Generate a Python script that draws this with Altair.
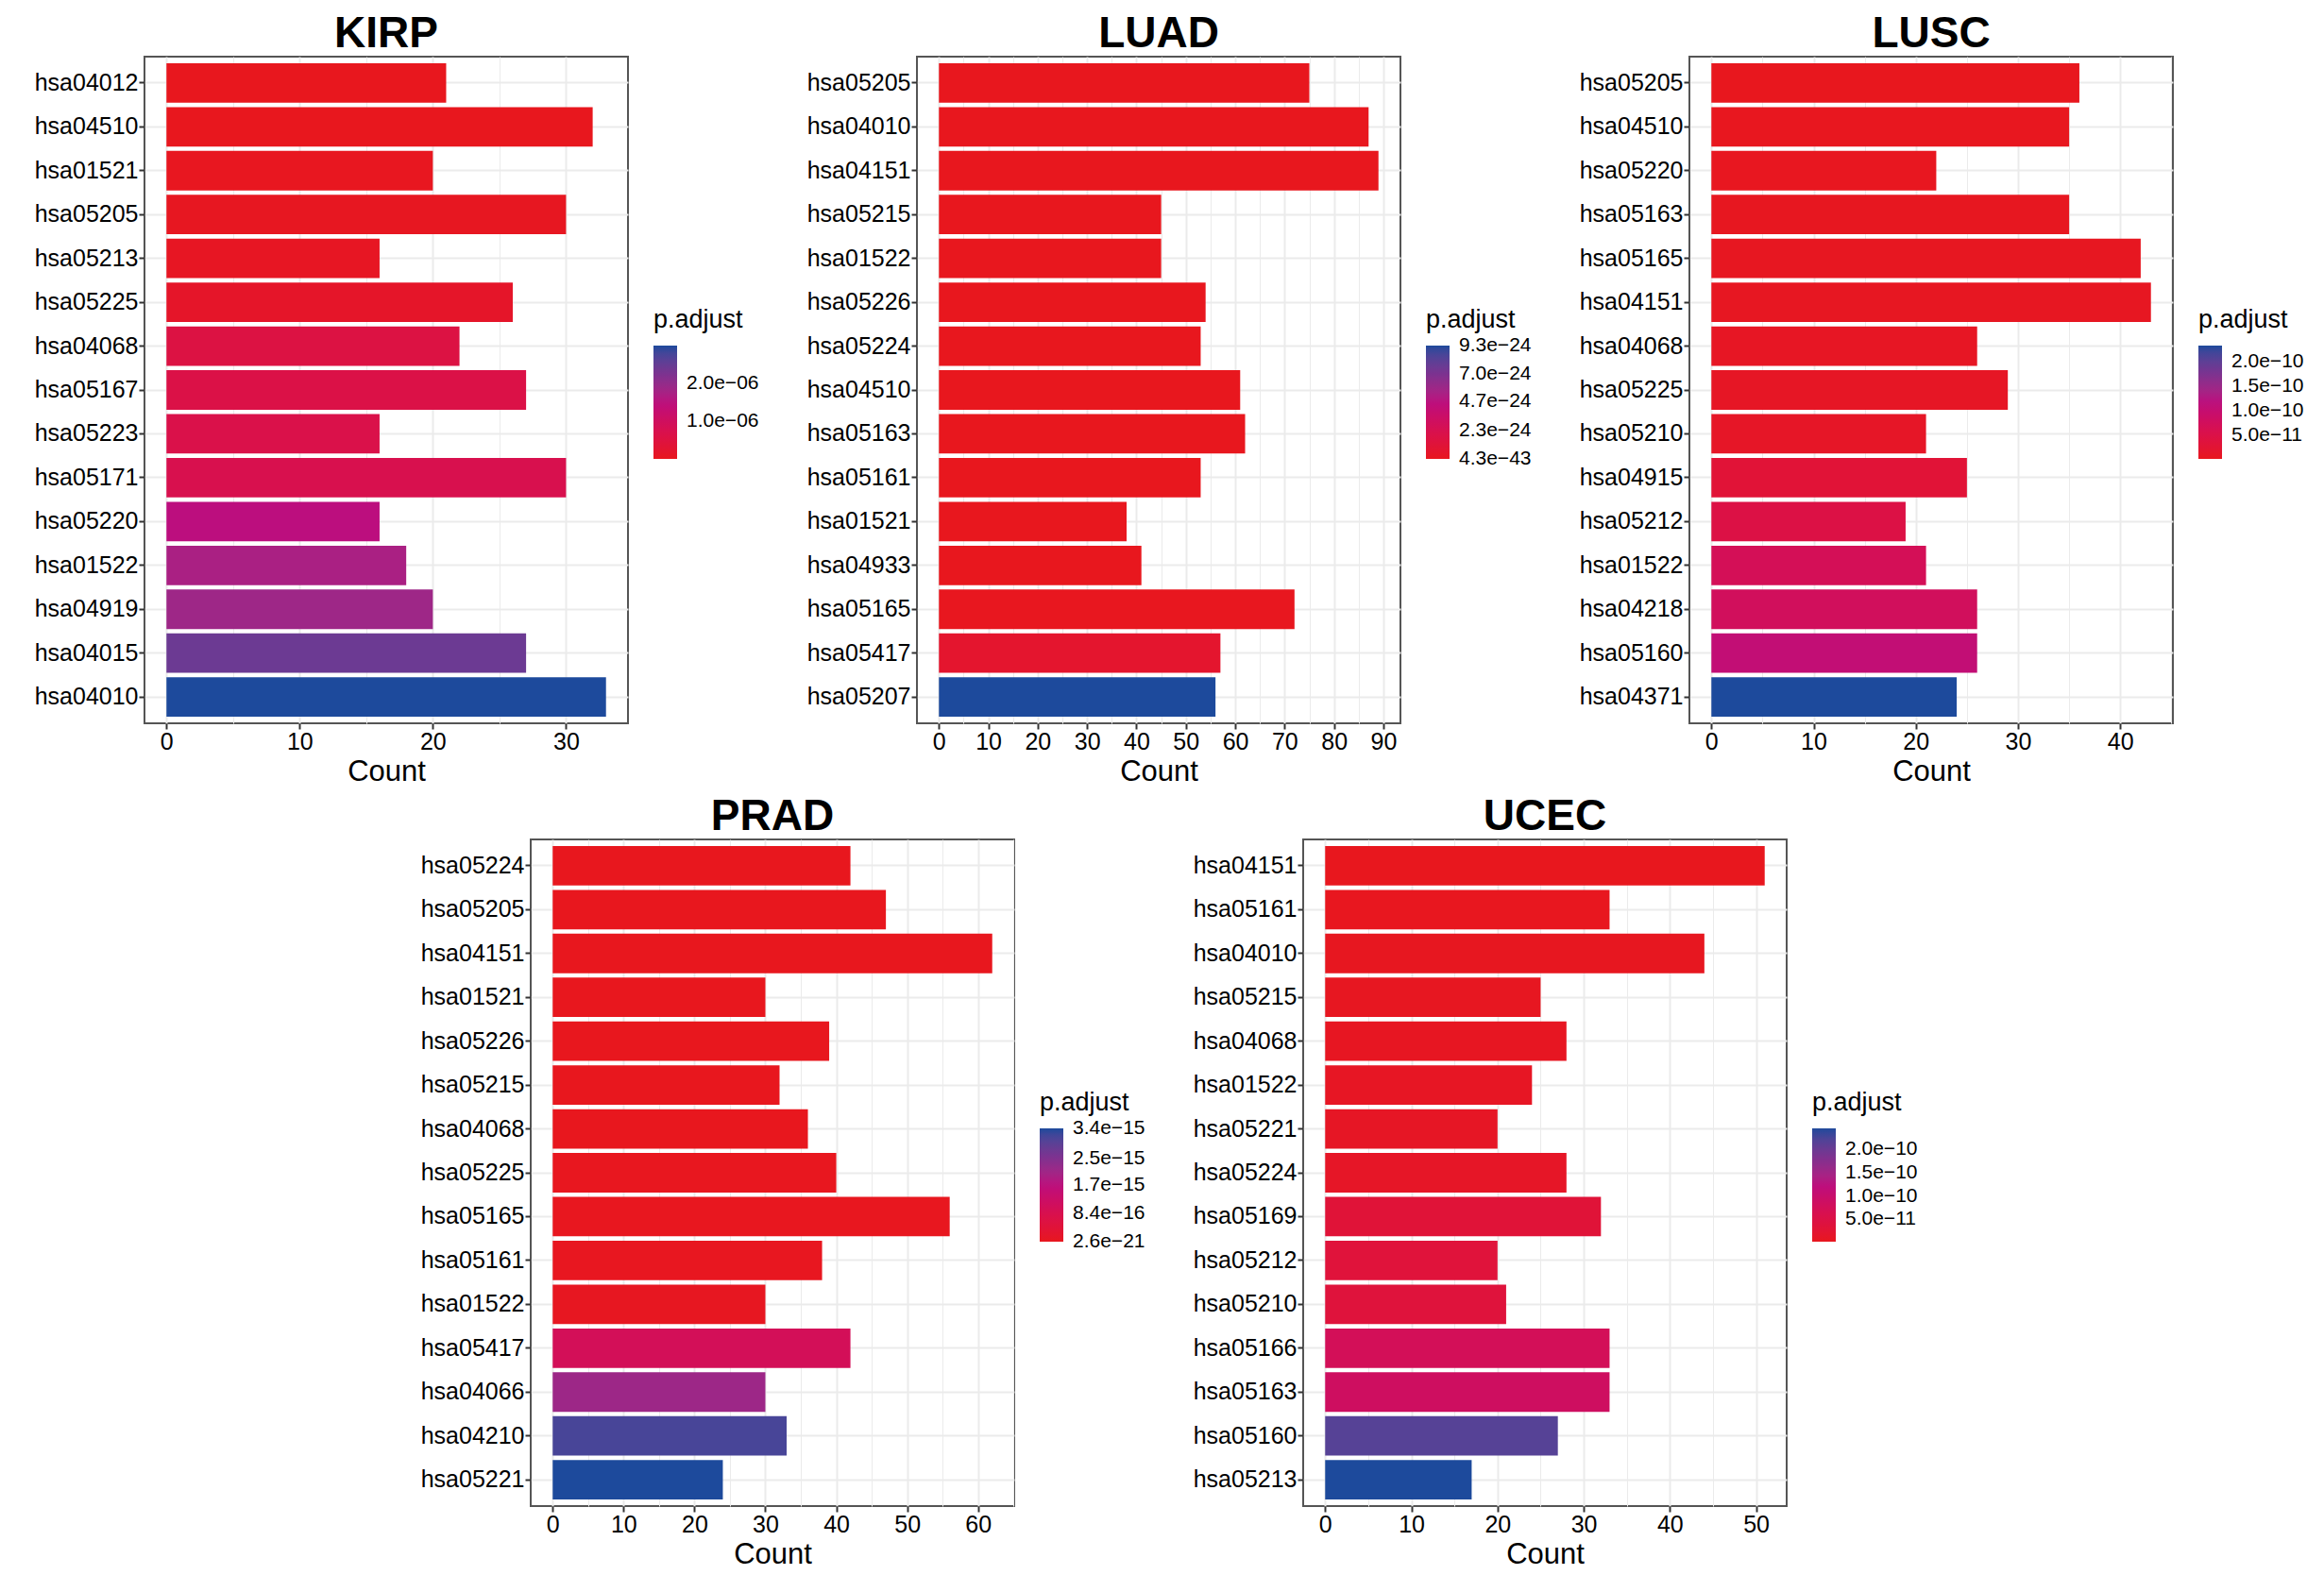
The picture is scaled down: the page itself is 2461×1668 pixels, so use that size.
import altair as alt
import pandas as pd

FONT = "Liberation Sans"

# ---------------- data ----------------
kirp_ids = ["hsa04012", "hsa04510", "hsa01521", "hsa05205", "hsa05213", "hsa05225", "hsa04068", "hsa05167",
            "hsa05223", "hsa05171", "hsa05220", "hsa01522", "hsa04919", "hsa04015", "hsa04010"]
kirp_count = [21, 32, 20, 30, 16, 26, 22, 27, 16, 30, 16, 18, 20, 27, 33]
kirp_padj = [1.2e-8, 1.8e-8, 3.1e-8, 4.5e-8, 6.9e-8, 1.6e-7, 5.6e-7, 6.3e-7, 6.8e-7, 7.4e-7,
             1.5e-6, 1.72e-6, 1.86e-6, 2.42e-6, 2.99e-6]
kirp_legend = [1.0e-6, 2.0e-6]

luad_ids = ["hsa05205", "hsa04010", "hsa04151", "hsa05215", "hsa01522", "hsa05226", "hsa05224", "hsa04510",
            "hsa05163", "hsa05161", "hsa01521", "hsa04933", "hsa05165", "hsa05417", "hsa05207"]
luad_count = [75, 87, 89, 45, 45, 54, 53, 61, 62, 53, 38, 41, 72, 57, 56]
luad_padj = [4.3e-43, 2.1e-41, 6.5e-40, 1.3e-38, 4.2e-37, 7.7e-36, 1.5e-34, 3.6e-33, 8.1e-32, 2.4e-30,
             5.5e-29, 9.8e-28, 2.7e-26, 6.6e-25, 9.3e-24]
luad_legend = [4.3e-43, 2.3e-24, 4.7e-24, 7.0e-24, 9.3e-24]

lusc_ids = ["hsa05205", "hsa04510", "hsa05220", "hsa05163", "hsa05165", "hsa04151", "hsa04068", "hsa05225",
            "hsa05210", "hsa04915", "hsa05212", "hsa01522", "hsa04218", "hsa05160", "hsa04371"]
lusc_count = [36, 35, 22, 35, 42, 43, 26, 29, 21, 25, 19, 21, 26, 26, 24]
lusc_padj = [1.1e-12, 1.6e-12, 2.9e-12, 3.4e-12, 4.2e-12, 4.5e-12, 6.8e-12, 8.3e-12, 1.05e-11, 2.9e-11,
             4.6e-11, 6.9e-11, 7.5e-11, 1.06e-10, 2.33e-10]
lusc_legend = [5.0e-11, 1.0e-10, 1.5e-10, 2.0e-10]

prad_ids = ["hsa05224", "hsa05205", "hsa04151", "hsa01521", "hsa05226", "hsa05215", "hsa04068", "hsa05225",
            "hsa05165", "hsa05161", "hsa01522", "hsa05417", "hsa04066", "hsa04210", "hsa05221"]
prad_count = [42, 47, 62, 30, 39, 32, 36, 40, 56, 38, 30, 42, 30, 33, 24]
prad_padj = [2.6e-21, 4.1e-20, 1.9e-19, 6.2e-19, 1.4e-18, 2.8e-18, 5.3e-18, 9.6e-18, 1.5e-17, 2.7e-17,
             4.4e-17, 1.02e-15, 2.13e-15, 3.13e-15, 3.4e-15]
prad_legend = [2.6e-21, 8.4e-16, 1.7e-15, 2.5e-15, 3.4e-15]

ucec_ids = ["hsa04151", "hsa05161", "hsa04010", "hsa05215", "hsa04068", "hsa01522", "hsa05221", "hsa05224",
            "hsa05169", "hsa05212", "hsa05210", "hsa05166", "hsa05163", "hsa05160", "hsa05213"]
ucec_count = [51, 33, 44, 25, 28, 24, 20, 28, 32, 20, 21, 33, 33, 27, 17]
ucec_padj = [3.0e-12, 3.9e-12, 5.2e-12, 6.1e-12, 7.4e-12, 8.8e-12, 1.02e-11, 1.2e-11, 3.3e-11, 3.6e-11,
             3.8e-11, 7.4e-11, 8.5e-11, 2.15e-10, 2.43e-10]
ucec_legend = [5.0e-11, 1.0e-10, 1.5e-10, 2.0e-10]

# gradient stops (low -> high)
grad_colors = ["#E8171E", "#D8104F", "#BC0E7E", "#7C3290", "#1D4A9C"]

PW, PH = 512, 706

label_expr = (
    "replace(length(split(format(datum.value,'.1e'),'e-')[1]) == 1 ? "
    "replace(format(datum.value,'.1e'),'e-','e-0') : format(datum.value,'.1e'), '-', '\u2212')"
)


def panel(name, ids, counts, padj, legend_vals):
    df = pd.DataFrame({"ID": ids, "Count": counts, "padj": padj})
    mx = max(counts)
    dom = [-0.05 * mx, 1.05 * mx]
    xvals = list(range(0, int(dom[1]) + 1, 5))
    lo, hi = min(padj), max(padj)
    eps = (hi - lo) * 1e-6
    lo2, hi2 = lo - eps, hi + eps
    cdom = [lo2 + (hi2 - lo2) * k / 4 for k in range(5)]
    return alt.Chart(df, title=alt.Title(name, fontSize=46, fontWeight="bold", anchor="middle",
                                         frame="group", offset=0, font=FONT, color="black")).mark_bar().encode(
        x=alt.X("Count:Q",
                scale=alt.Scale(domain=dom, nice=False, zero=False),
                axis=alt.Axis(title="Count", values=xvals,
                              labelExpr="datum.value % 10 == 0 ? datum.label : ''",
                              tickOpacity={"condition": {"test": "datum.value % 10 != 0", "value": 0}, "value": 1},
                              gridWidth={"condition": {"test": "datum.value % 10 != 0", "value": 1}, "value": 2},
                              grid=True)),
        x2=alt.datum(0),
        y=alt.Y("ID:N", sort=ids,
                scale=alt.Scale(paddingInner=0.1, paddingOuter=0.15),
                axis=alt.Axis(title=None, grid=True, bandPosition=0.5, gridWidth=2)),
        color=alt.Color("padj:Q",
                        scale=alt.Scale(domain=cdom, range=grad_colors, interpolate="lab"),
                        legend=alt.Legend(title="p.adjust", orient="none", legendX=PW + 27, legendY=266,
                                          values=legend_vals, labelExpr=label_expr, direction="vertical",
                                          labelOverlap=False, labelOffset=10, labelFontSize=21,
                                          titlePadding=13,
                                          gradientLength=120, gradientThickness=25)),
    ).properties(width=PW, height=PH)


kirp = panel("KIRP", kirp_ids, kirp_count, kirp_padj, kirp_legend)
luad = panel("LUAD", luad_ids, luad_count, luad_padj, luad_legend)
lusc = panel("LUSC", lusc_ids, lusc_count, lusc_padj, lusc_legend)
prad = panel("PRAD", prad_ids, prad_count, prad_padj, prad_legend)
ucec = panel("UCEC", ucec_ids, ucec_count, ucec_padj, ucec_legend)

row1 = alt.hconcat(kirp, luad, lusc, spacing=48).resolve_scale(color="independent")
row2 = alt.hconcat(prad, ucec, spacing=48).resolve_scale(color="independent")

chart = alt.vconcat(row1, row2, spacing=8, center=True).resolve_scale(color="independent").properties(
    padding={"left": 27, "top": 4, "right": 5, "bottom": 2}
).configure(
    font=FONT
).configure_axis(
    labelFont=FONT, titleFont=FONT, labelFontSize=25, titleFontSize=31, titleFontWeight="normal",
    labelColor="black", titleColor="black", tickColor="#333333", tickSize=6, tickWidth=2,
    gridColor="#EBEBEB", domain=False, labelPadding=1, titlePadding=4
).configure_legend(
    titleFont=FONT, labelFont=FONT, titleFontSize=27, labelFontSize=21, titleFontWeight="normal",
    titleColor="black", labelColor="black", gradientStrokeWidth=0
).configure_view(
    stroke="#555555", strokeWidth=2
)

chart.save("out.html", embed_options={"renderer": "svg", "actions": False})
